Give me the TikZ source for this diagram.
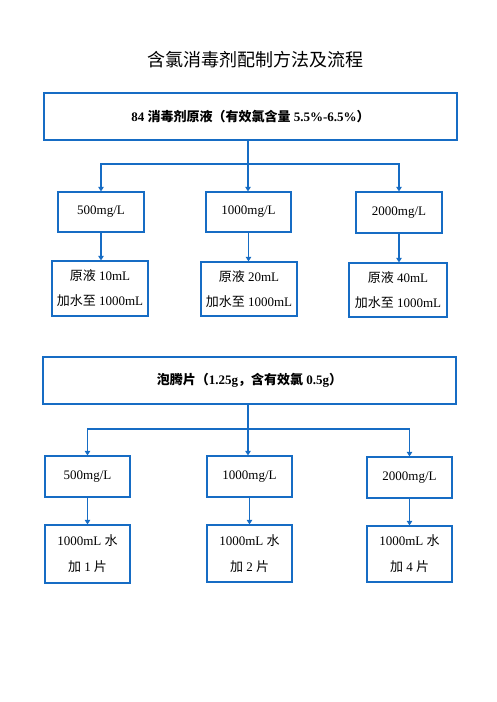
\documentclass[tikz,border=0pt]{standalone}
\usepackage{fontspec}
\setmainfont{Liberation Serif}
\newfontfamily\cjk{Noto Sans CJK SC}
\usetikzlibrary{arrows.meta,calc}
\definecolor{bl}{RGB}{22,108,196}
\tikzset{
  box/.style={draw=bl, line width=1.3pt, fill=white, align=center, inner sep=0pt, font=\fontsize{13}{25}\selectfont},
  hdr/.style={box, font=\fontsize{13}{16}\selectfont\bfseries},
  conn/.style={draw=bl, line width=1.2pt},
  arr/.style={conn, -{Triangle[width=5.5pt,length=4.5pt]}}
}
\begin{document}
\begin{tikzpicture}[x=1pt,y=-1pt]
\useasboundingbox (0,0) rectangle (496,702);
\node (title) at (255,60) {\fontsize{18}{20}\selectfont\cjk 含氯消毒剂配制方法及流程};

\node[hdr, minimum width=413pt, minimum height=47pt] (top1) at (250.5,116.5) {84 {\cjk\bfseries 消毒剂原液（有效氯含量} 5.5\%-6.5\%{\cjk\bfseries ）}};

\node[box, minimum width=86pt, minimum height=40pt] (a1) at (101,212) {500mg/L};
\node[box, minimum width=85pt, minimum height=40pt] (b1) at (248.5,212) {1000mg/L};
\node[box, minimum width=86pt, minimum height=41pt] (c1) at (399,212.5) {2000mg/L};

\node[box, minimum width=96pt, minimum height=55pt] (a2) at (100,288.5) {{\cjk 原液} 10mL\\{\cjk 加水至} 1000mL};
\node[box, minimum width=96pt, minimum height=54pt] (b2) at (249,289) {{\cjk 原液} 20mL\\{\cjk 加水至} 1000mL};
\node[box, minimum width=98pt, minimum height=54pt] (c2) at (398,290) {{\cjk 原液} 40mL\\{\cjk 加水至} 1000mL};

\coordinate (bus1) at (248,164);
\draw[conn] (top1.south -| bus1) -- (bus1);
\draw[arr] (bus1) -| (a1.north);
\draw[arr] (bus1) -| (c1.north);
\draw[arr] (bus1) -- (b1.north -| bus1);
\draw[arr] (a1.south) -- (a2.north -| a1.south);
\draw[arr] (b1.south) -- (b2.north -| b1.south);
\draw[arr] (c1.south) -- (c2.north -| c1.south);

\node[hdr, minimum width=413pt, minimum height=47pt] (top2) at (249.5,380.5) {{\cjk\bfseries 泡腾片（}1.25g{\cjk\bfseries ，含有效氯} 0.5g{\cjk\bfseries ）}};

\node[box, minimum width=85pt, minimum height=41pt] (a3) at (87.5,476.5) {500mg/L};
\node[box, minimum width=85pt, minimum height=41pt] (b3) at (249.5,476.5) {1000mg/L};
\node[box, minimum width=85pt, minimum height=41pt] (c3) at (409.5,477.5) {2000mg/L};

\node[box, minimum width=85pt, minimum height=58pt, font=\fontsize{13}{26}\selectfont] (a4) at (87.5,554) {1000mL {\cjk 水}\\{\cjk 加} 1 {\cjk 片}};
\node[box, minimum width=85pt, minimum height=57pt, font=\fontsize{13}{26}\selectfont] (b4) at (249.5,553.5) {1000mL {\cjk 水}\\{\cjk 加} 2 {\cjk 片}};
\node[box, minimum width=85pt, minimum height=56pt, font=\fontsize{13}{26}\selectfont] (c4) at (409.5,554) {1000mL {\cjk 水}\\{\cjk 加} 4 {\cjk 片}};

\coordinate (bus2) at (248,429);
\draw[conn] (top2.south -| bus2) -- (bus2);
\draw[arr] (bus2) -| (a3.north);
\draw[arr] (bus2) -| (c3.north);
\draw[arr] (bus2) -- (b3.north -| bus2);
\draw[arr] (a3.south) -- (a4.north -| a3.south);
\draw[arr] (b3.south) -- (b4.north -| b3.south);
\draw[arr] (c3.south) -- (c4.north -| c3.south);
\end{tikzpicture}
\end{document}
